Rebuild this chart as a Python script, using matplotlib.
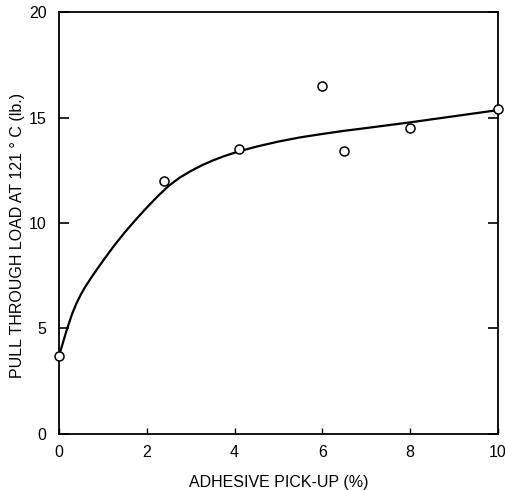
import matplotlib.pyplot as plt

plt.rcParams['font.family'] = ['Liberation Sans', 'DejaVu Sans']

# measured points
pickup = [0, 2.4, 4.1, 6.0, 6.5, 8.0, 10.0]
load = [3.7, 12.0, 13.5, 16.5, 13.4, 14.5, 15.4]

# hand-drawn trend curve
curve_x = [0, 0.05, 0.1, 0.15, 0.2, 0.3, 0.4, 0.5, 0.6, 0.7, 0.8, 1.0, 1.25,
           1.5, 1.75, 2.0, 2.25, 2.5, 2.75, 3.0, 3.25, 3.5, 3.75,
           4.0, 4.25, 4.5, 5.0, 5.5, 6.0, 6.5, 7.0, 8.0, 9.0, 10.0]
curve_y = [3.7, 4.05, 4.4, 4.75, 5.08, 5.7, 6.2, 6.62, 6.98, 7.3, 7.61, 8.2,
           8.91, 9.56, 10.16, 10.73, 11.27, 11.76, 12.15, 12.46, 12.73, 12.96,
           13.16, 13.33, 13.48, 13.62, 13.86, 14.06, 14.22, 14.37,
           14.5, 14.77, 15.06, 15.35]

fig = plt.figure(figsize=(5.06, 4.9), dpi=100)
ax = fig.add_axes([0.1166, 0.1143, 0.8674, 0.8612])

ax.plot(curve_x, curve_y, color='black', lw=1.6, zorder=2)
ax.plot(pickup, load, 'o', ms=6.5, mfc='white', mec='black', mew=1.1,
        zorder=3, clip_on=False)

ax.set_xlim(0, 10)
ax.set_ylim(0, 20)
ax.set_xticks([0, 2, 4, 6, 8, 10])
ax.set_yticks([0, 5, 10, 15, 20])
ax.tick_params(axis='x', direction='in', length=4, width=1, pad=8, labelsize=11.5)
ax.tick_params(axis='y', direction='in', length=7, width=1.2, pad=9, labelsize=11.5,
               right=True)
for s in ax.spines.values():
    s.set_linewidth(1.3)

ax.set_xlabel('ADHESIVE PICK-UP (%)', fontsize=11.5, labelpad=11)
ax.set_ylabel('PULL THROUGH LOAD AT 121 ° C (lb.)', fontsize=11.5)
ax.yaxis.set_label_coords(-0.078, 0.47)

fig.savefig('out.png', dpi=100)
